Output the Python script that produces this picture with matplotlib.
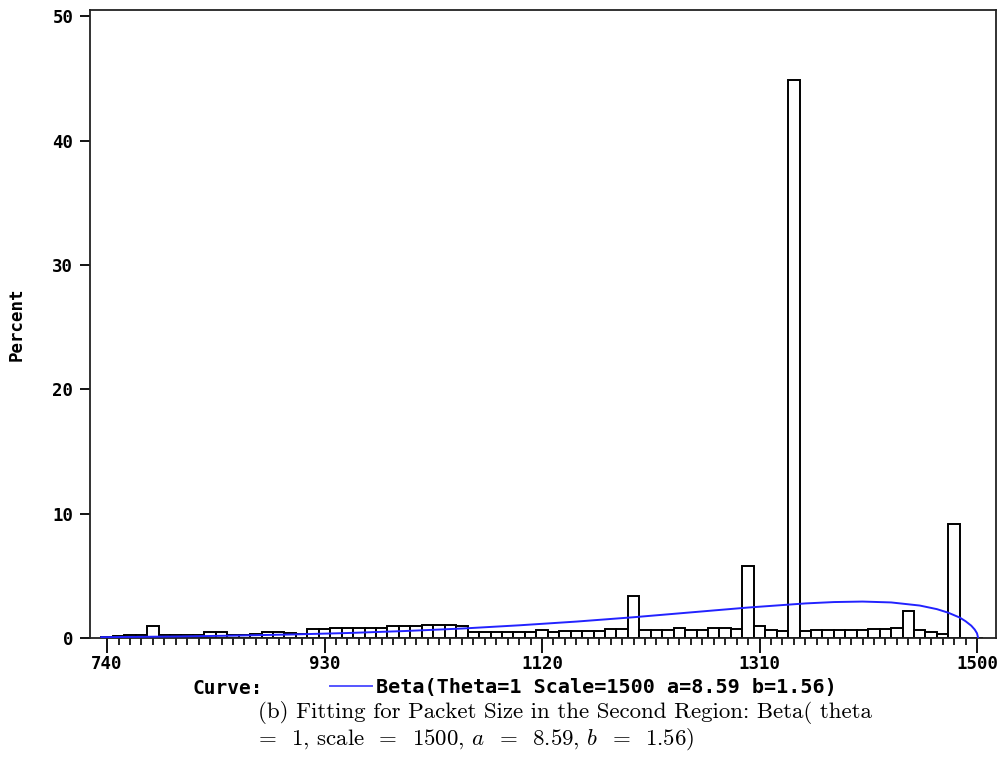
import matplotlib
matplotlib.use('Agg')
import matplotlib.pyplot as plt
from matplotlib.ticker import FixedLocator

# Histogram midpoints (packet size) and percent per bin
midpoints = list(range(740, 1510, 10))
percent = [
    0.10, 0.15, 0.27, 0.27, 0.97, 0.27, 0.27, 0.27, 0.27, 0.45,   # 740-830
    0.45, 0.25, 0.25, 0.30, 0.45, 0.45, 0.40, 0.35, 0.70, 0.70,   # 840-930
    0.80, 0.80, 0.80, 0.80, 0.80, 0.94, 0.94, 0.94, 1.05, 1.05,   # 940-1030
    1.05, 0.94, 0.48, 0.48, 0.48, 0.48, 0.48, 0.48, 0.62, 0.48,   # 1040-1130
    0.60, 0.60, 0.60, 0.60, 0.75, 0.75, 3.40, 0.68, 0.68, 0.68,   # 1140-1230
    0.83, 0.68, 0.68, 0.83, 0.83, 0.75, 5.80, 0.97, 0.62, 0.54,   # 1240-1330
    44.9, 0.54, 0.62, 0.62, 0.62, 0.62, 0.62, 0.75, 0.70, 0.83,   # 1340-1430
    2.17, 0.62, 0.48, 0.35, 9.20, 0.00, 0.00,                     # 1440-1500
]

# Fitted Beta curve
curve_x = [735, 740, 800, 850, 900, 950, 1000, 1050, 1100, 1150, 1200,
           1250, 1300, 1350, 1375, 1400, 1425, 1450, 1465, 1475, 1485,
           1490, 1495, 1498, 1500, 1501]
curve_pct = [0.07, 0.07, 0.12, 0.19, 0.28, 0.40, 0.56, 0.76, 1.02, 1.32, 1.67,
             2.06, 2.45, 2.78, 2.89, 2.93, 2.86, 2.61, 2.32, 2.03, 1.64,
             1.35, 0.99, 0.68, 0.38, 0.0]

major_ticks = [740, 930, 1120, 1310, 1500]
y_ticks = [0, 10, 20, 30, 40, 50]

legend_label = "Beta(Theta=1 Scale=1500 a=8.59 b=1.56)"
caption_1 = "(b) Fitting for Packet Size in the Second Region: Beta( theta"
caption_2 = "=  1, scale  =  1500, $a$  =  8.59, $b$  =  1.56)"

plt.rcParams['mathtext.fontset'] = 'cm'
MONO = 'DejaVu Sans Mono'
BLUE = '#2222ff'

W, H = 1000, 773
fig = plt.figure(figsize=(W / 100, H / 100), dpi=100)
ax = fig.add_axes([90 / W, 1 - 638 / H, 906 / W, 628 / H])

ax.bar(midpoints, percent, width=10, facecolor='white', edgecolor='black',
       linewidth=1.4, zorder=2)
ax.plot(curve_x, curve_pct, color=BLUE, linewidth=1.4, zorder=3)

ax.set_xlim(725.1, 1516.6)
ax.set_ylim(0, 50.5)
ax.set_xticks(major_ticks)
ax.xaxis.set_minor_locator(FixedLocator(midpoints))
ax.set_yticks(y_ticks)

for s in ax.spines.values():
    s.set_linewidth(1.3)
    s.set_color('#222222')

ax.tick_params(axis='x', which='major', length=11, width=1.3, direction='out',
               pad=1)
ax.tick_params(axis='x', which='minor', length=5, width=1.2, direction='out')
ax.tick_params(axis='y', which='major', length=7, width=1.3, direction='out',
               pad=5)
for lab in ax.get_xticklabels() + ax.get_yticklabels():
    lab.set_fontweight('bold')
    lab.set_family(MONO)
    lab.set_fontsize(12.5)

ax.set_ylabel("Percent", fontsize=12.5, fontweight='bold', family=MONO)
ax.yaxis.set_label_coords(-0.0706, 0.5)

# Legend row
fig.text(192 / W, 1 - 688 / H, "Curve:", fontsize=14, fontweight='bold',
         family=MONO, va='center', ha='left')
fig.add_artist(plt.Line2D([330 / W, 372 / W], [1 - 686 / H, 1 - 686 / H],
                          color='#5555ff', linewidth=1.4))
fig.text(376 / W, 1 - 688 / H, legend_label, fontsize=14.5,
         fontweight='bold', family=MONO, va='center', ha='left')

# Caption
fig.text(258 / W, 1 - 712 / H, caption_1, fontsize=16.5, family='cmr10',
         va='center', ha='left')
fig.text(258 / W, 1 - 739 / H, caption_2, fontsize=16.5, family='cmr10',
         va='center', ha='left')

fig.savefig("out.png", dpi=100)
